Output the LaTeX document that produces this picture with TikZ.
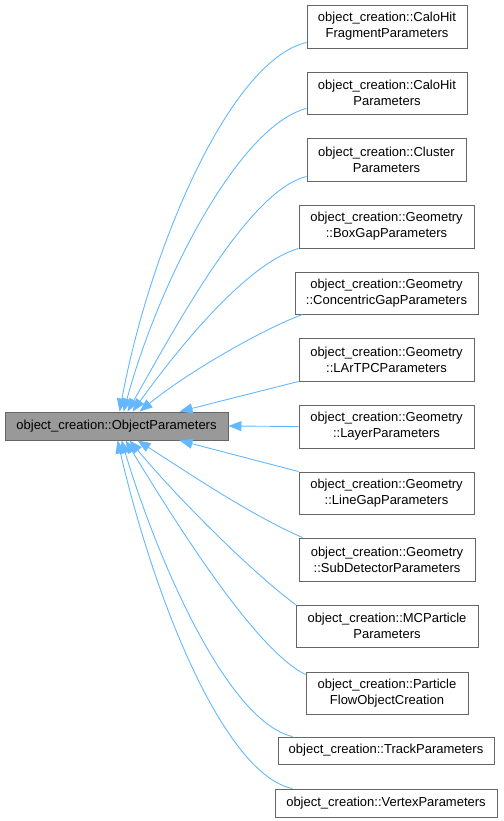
\documentclass[tikz,border=0pt]{standalone}
\usepackage{fontspec}
\setmainfont{Liberation Sans}
\usetikzlibrary{arrows.meta}
\definecolor{edgec}{HTML}{63B8FF}
\definecolor{boxb}{HTML}{666666}
\definecolor{basef}{HTML}{999999}
\begin{document}
\begin{tikzpicture}[x=1pt,y=1pt,
 cls/.style={draw=boxb, line width=0.9pt, fill=white, inner sep=0pt, align=center, font=\fontsize{13}{16}\selectfont},
 base/.style={cls, fill=basef},
 inh/.style={draw=edgec, line width=0.9pt, -{Triangle[length=13pt,width=10pt]}}]
\useasboundingbox (0,0) rectangle (503,-821);
\node[base, minimum width=223pt, minimum height=28pt] (L) at (116.5,-426) {object\_creation::ObjectParameters};
\node[cls, minimum width=160pt, minimum height=43pt] (n1) at (387,-26.5) {object\_creation::CaloHit\\FragmentParameters};
\node[cls, minimum width=160pt, minimum height=42pt] (n2) at (387,-93) {object\_creation::CaloHit\\Parameters};
\node[cls, minimum width=159pt, minimum height=43pt] (n3) at (386.5,-159.5) {object\_creation::Cluster\\Parameters};
\node[cls, minimum width=175pt, minimum height=43pt] (n4) at (386.5,-226.5) {object\_creation::Geometry\\::BoxGapParameters};
\node[cls, minimum width=183pt, minimum height=42pt] (n5) at (386.5,-293) {object\_creation::Geometry\\::ConcentricGapParameters};
\node[cls, minimum width=175pt, minimum height=43pt] (n6) at (386.5,-359.5) {object\_creation::Geometry\\::LArTPCParameters};
\node[cls, minimum width=175pt, minimum height=43pt] (n7) at (386.5,-426.5) {object\_creation::Geometry\\::LayerParameters};
\node[cls, minimum width=175pt, minimum height=42pt] (n8) at (386.5,-493) {object\_creation::Geometry\\::LineGapParameters};
\node[cls, minimum width=176pt, minimum height=43pt] (n9) at (387,-559.5) {object\_creation::Geometry\\::SubDetectorParameters};
\node[cls, minimum width=182pt, minimum height=42pt] (n10) at (387,-626) {object\_creation::MCParticle\\Parameters};
\node[cls, minimum width=162pt, minimum height=42pt] (n11) at (387,-693) {object\_creation::Particle\\FlowObjectCreation};
\node[cls, minimum width=216pt, minimum height=27pt] (n12) at (386,-750.5) {object\_creation::TrackParameters};
\node[cls, minimum width=222pt, minimum height=28pt] (n13) at (386,-803) {object\_creation::VertexParameters};

\draw[inh] ([yshift=6pt]n1.south west) .. controls +(-77,-18) and +(30,162) .. ([xshift=115pt]L.north west);
\draw[inh] ([yshift=6pt]n2.south west) .. controls +(-67,-17) and +(36,132) .. ([xshift=119pt]L.north west);
\draw[inh] ([yshift=5pt]n3.south west) .. controls +(-57,-14) and +(52,92) .. ([xshift=123pt]L.north west);
\draw[inh] (n4.south west) .. controls +(-49,-14) and +(52,72) .. ([xshift=128pt]L.north west);
\draw[inh] ([xshift=8pt]n5.south west) .. controls +(-43,-16) and +(45,37) .. ([xshift=135pt]L.north west);
\draw[inh] (n6.south west) -- ([xshift=175pt]L.north west);
\draw[inh] (n7.west) -- (L.east);
\draw[inh] (n8.north west) -- ([xshift=175pt]L.south west);
\draw[inh] ([xshift=4pt]n9.north west) .. controls +(-53,23) and +(47,-30) .. ([xshift=133pt]L.south west);
\draw[inh] (n10.north west) .. controls +(-41,30) and +(50,-60) .. ([xshift=125pt]L.south west);
\draw[inh] ([yshift=-3pt]n11.north west) .. controls +(-51,25) and +(49,-80) .. ([xshift=121pt]L.south west);
\draw[inh] ([xshift=15pt]n12.north west) .. controls +(-65,15) and +(36,-120) .. ([xshift=117pt]L.south west);
\draw[inh] ([xshift=18pt]n13.north west) .. controls +(-68,14) and +(37,-160) .. ([xshift=113pt]L.south west);
\end{tikzpicture}
\end{document}
